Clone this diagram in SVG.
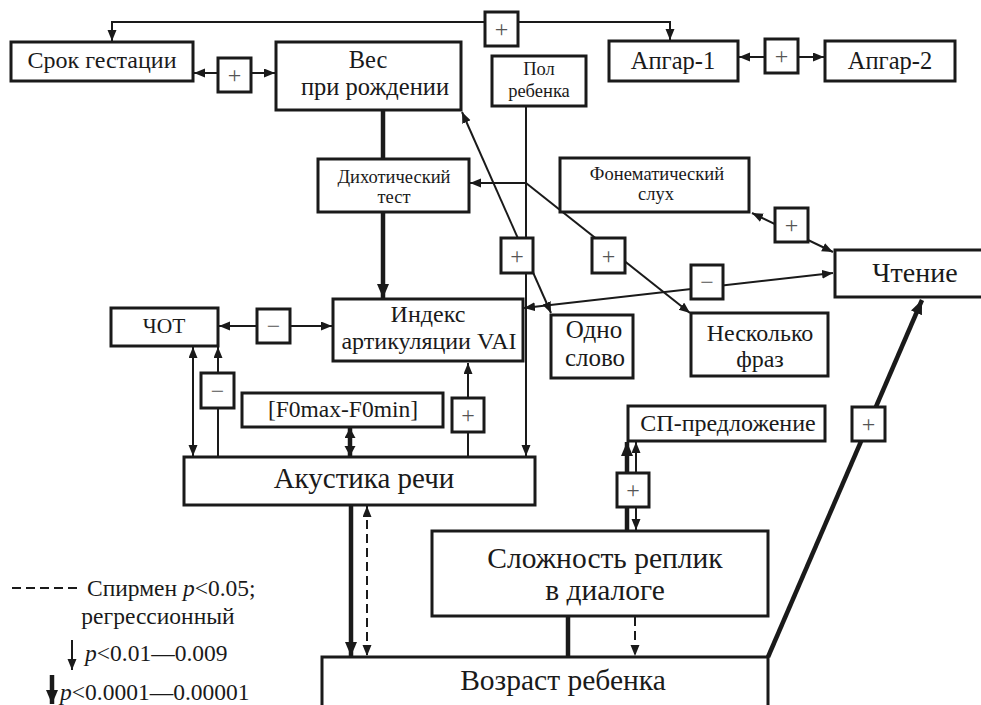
<svg xmlns="http://www.w3.org/2000/svg" width="981" height="705" viewBox="0 0 981 705" font-family="Liberation Serif, serif">
<style>
.box{fill:#fff;stroke:#1a1a1a;stroke-width:3}
.sb{fill:#fff;stroke:#1a1a1a;stroke-width:3}
.t{font-family:'Liberation Serif','Times New Roman',serif;fill:#1a1a1a;text-anchor:middle}
.lg{font-family:'Liberation Serif','Times New Roman',serif;fill:#1a1a1a;font-size:23.5px}
.c{fill:none;stroke:#1a1a1a;stroke-width:2}
.k{fill:none;stroke:#1a1a1a;stroke-width:4.5}
.d{stroke-dasharray:9,5}
.sg{font-family:'Liberation Serif','Times New Roman',serif;font-size:24px;fill:#555;text-anchor:middle}
</style>
<defs>
<marker id="a" markerUnits="userSpaceOnUse" markerWidth="12" markerHeight="10" refX="11" refY="4.5" orient="auto-start-reverse"><path d="M0,0 L11,4.5 L0,9 z" fill="#1a1a1a"/></marker>
<marker id="ak" markerUnits="userSpaceOnUse" markerWidth="15" markerHeight="13" refX="14" refY="6" orient="auto-start-reverse"><path d="M0,0 L14,6 L0,12 z" fill="#1a1a1a"/></marker>
<marker id="as" markerUnits="userSpaceOnUse" markerWidth="12" markerHeight="12" refX="10" refY="5.5" orient="auto-start-reverse"><path d="M0,0 L10,5.5 L0,11 z" fill="#1a1a1a"/></marker>
</defs>
<rect width="981" height="705" fill="#fff"/>

<g id="connectors">
<polyline class="c" points="485,22 112,22 112,41" marker-end="url(#a)"/>
<polyline class="c" points="518,22 670,22 670,40" marker-end="url(#a)"/>
<line class="c" x1="218" y1="73" x2="194" y2="73" marker-end="url(#a)"/>
<line class="c" x1="251" y1="73" x2="275" y2="73" marker-end="url(#a)"/>
<line class="c" x1="765" y1="57" x2="739" y2="57" marker-end="url(#a)"/>
<line class="c" x1="798" y1="57" x2="824" y2="57" marker-end="url(#a)"/>
<line class="k" x1="383" y1="110" x2="383" y2="159"/>
<line class="k" x1="383" y1="212" x2="383" y2="298" marker-end="url(#ak)"/>
<line class="c" x1="526" y1="106" x2="526" y2="456" marker-end="url(#a)"/>
<line class="c" x1="526" y1="183" x2="470" y2="183" marker-end="url(#a)"/>
<line class="c" x1="526" y1="183" x2="690" y2="313" marker-end="url(#a)"/>
<line class="c" x1="551" y1="313" x2="462" y2="112" marker-start="url(#a)" marker-end="url(#a)"/>
<line class="c" x1="752" y1="213" x2="833" y2="252" marker-start="url(#a)" marker-end="url(#a)"/>
<line class="c" x1="833" y1="273" x2="524" y2="308" marker-start="url(#a)" marker-end="url(#a)"/>
<line class="c" x1="219" y1="326" x2="332" y2="326" marker-start="url(#a)" marker-end="url(#a)"/>
<line class="c" x1="193" y1="347" x2="193" y2="456" marker-start="url(#a)" marker-end="url(#a)"/>
<line class="c" x1="218" y1="457" x2="218" y2="347" marker-end="url(#a)"/>
<line class="k" x1="350" y1="428" x2="350" y2="456" stroke-width="4" marker-start="url(#as)" marker-end="url(#as)"/>
<line class="c" x1="468" y1="457" x2="468" y2="363" marker-end="url(#a)"/>
<line class="k" x1="351" y1="505" x2="351" y2="656" marker-end="url(#ak)"/>
<line class="c d" x1="367" y1="506" x2="367" y2="656" marker-start="url(#a)" marker-end="url(#a)"/>
<line class="k" x1="627" y1="531" x2="627" y2="442" marker-end="url(#ak)"/>
<line class="c" x1="636" y1="530" x2="636" y2="442" marker-start="url(#a)" marker-end="url(#a)"/>
<line class="k" x1="568" y1="616" x2="568" y2="657"/>
<line class="c d" x1="635" y1="617" x2="635" y2="656" marker-end="url(#a)"/>
<line class="k" x1="768" y1="657" x2="922" y2="300" marker-end="url(#ak)"/>
</g>

<g id="signs">
<rect class="sb" x="485" y="12" width="33" height="34"/><text class="sg" x="501.5" y="37">+</text>
<rect class="sb" x="218" y="58" width="33" height="34"/><text class="sg" x="234.5" y="83">+</text>
<rect class="sb" x="765" y="39" width="33" height="34"/><text class="sg" x="781.5" y="64">+</text>
<rect class="sb" x="501" y="238" width="32" height="35"/><text class="sg" x="517" y="264">+</text>
<rect class="sb" x="592" y="238" width="33" height="35"/><text class="sg" x="608.5" y="264">+</text>
<rect class="sb" x="775" y="208" width="33" height="34"/><text class="sg" x="791.5" y="233">+</text>
<rect class="sb" x="691" y="265" width="32" height="34"/><text class="sg" x="707" y="290">−</text>
<rect class="sb" x="257" y="309" width="33" height="34"/><text class="sg" x="273.5" y="334">−</text>
<rect class="sb" x="201" y="373" width="33" height="35"/><text class="sg" x="217.5" y="399">−</text>
<rect class="sb" x="452" y="398" width="32" height="34"/><text class="sg" x="468" y="423">+</text>
<rect class="sb" x="617" y="473" width="32" height="34"/><text class="sg" x="633" y="498">+</text>
<rect class="sb" x="852" y="407" width="33" height="34"/><text class="sg" x="868.5" y="432">+</text>
</g>

<g id="srok"><rect class="box" x="11" y="42" width="182" height="39"/><text class="t" x="102" y="68" font-size="24">Срок гестации</text></g>
<g id="ves"><rect class="box" x="276" y="42" width="185" height="68"/><text class="t" x="368" y="68" font-size="24.5">Вес</text><text class="t" x="375" y="95" font-size="24.5">при рождении</text></g>
<g id="pol"><rect class="box" x="492" y="56" width="94" height="50"/><text class="t" x="539" y="75" font-size="18.5">Пол</text><text class="t" x="539" y="97" font-size="18.5">ребенка</text></g>
<g id="apgar1"><rect class="box" x="609" y="41" width="129" height="40"/><text class="t" x="673" y="69" font-size="24.5">Апгар-1</text></g>
<g id="apgar2"><rect class="box" x="825" y="41" width="130" height="40"/><text class="t" x="890" y="69" font-size="24.5">Апгар-2</text></g>
<g id="dich"><rect class="box" x="318" y="159" width="151" height="53"/><text class="t" x="394" y="183" font-size="18.5">Дихотический</text><text class="t" x="394" y="203" font-size="18.5">тест</text></g>
<g id="fonem"><rect class="box" x="560" y="158" width="189" height="54"/><text class="t" x="657" y="180" font-size="18.5">Фонематический</text><text class="t" x="656" y="200" font-size="18.5">слух</text></g>
<g id="chtenie"><rect class="box" x="835" y="250" width="150" height="47"/><text class="t" x="915" y="282" font-size="28">Чтение</text></g>
<g id="chot"><rect class="box" x="111" y="308" width="107" height="38"/><text class="t" x="164" y="333" font-size="21.5">ЧОТ</text></g>
<g id="index"><rect class="box" x="333" y="299" width="190" height="62"/><text class="t" x="428" y="322" font-size="24">Индекс</text><text class="t" x="429" y="349" font-size="24">артикуляции VAI</text></g>
<g id="odno"><rect class="box" x="551" y="315" width="82" height="63"/><text class="t" x="594" y="338" font-size="25">Одно</text><text class="t" x="595" y="366" font-size="25">слово</text></g>
<g id="neskolko"><rect class="box" x="691" y="313" width="137" height="63"/><text class="t" x="760" y="341" font-size="24">Несколько</text><text class="t" x="760" y="367" font-size="24">фраз</text></g>
<g id="f0"><rect class="box" x="242" y="393" width="201" height="34"/><text class="t" x="343" y="417" font-size="23.5">[F0max-F0min]</text></g>
<g id="sp"><rect class="box" x="628" y="406" width="197" height="35"/><text class="t" x="728" y="431" font-size="24">СП-предложение</text></g>
<g id="akustika"><rect class="box" x="184" y="457" width="351" height="48"/><text class="t" x="364" y="488" font-size="29">Акустика речи</text></g>
<g id="slozhnost"><rect class="box" x="432" y="531" width="336" height="85"/><text class="t" x="605" y="568" font-size="29.5">Сложность реплик</text><text class="t" x="605" y="600" font-size="29.5">в диалоге</text></g>
<g id="vozrast"><polyline class="box" points="322,710 322,657 768,657 768,710"/><text class="t" x="563" y="690" font-size="29.5">Возраст ребенка</text></g>

<g id="legend">
<line class="c d" x1="12" y1="588" x2="78" y2="588" stroke-width="2.5"/>
<text class="lg" x="87" y="596">Спирмен <tspan font-style="italic">p</tspan>&lt;0.05;</text>
<text class="lg" x="158" y="624" text-anchor="middle">регрессионный</text>
<line class="c" x1="72" y1="640" x2="72" y2="670" marker-end="url(#a)"/>
<text class="lg" x="85" y="661"><tspan font-style="italic">p</tspan>&lt;0.01—0.009</text>
<line class="k" x1="52" y1="675" x2="52" y2="704" marker-end="url(#ak)"/>
<text class="lg" x="60" y="700"><tspan font-style="italic">p</tspan>&lt;0.0001—0.00001</text>
</g>
</svg>
